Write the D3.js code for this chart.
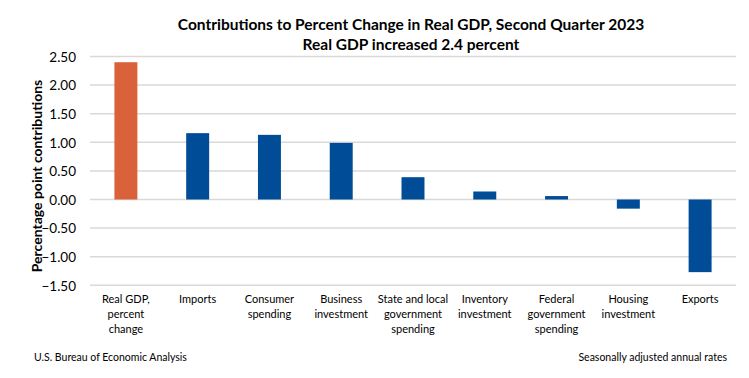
<!DOCTYPE html>
<html><head><meta charset="utf-8">
<script src="https://cdn.jsdelivr.net/npm/d3@7"></script>
<style>body{margin:0;background:#fff}svg{display:block}text{font-family:Lato,"Open Sans",sans-serif;fill:#000}</style>
</head><body><svg id="c" width="749" height="378"></svg>
<script>
const categories = [["Real GDP,","percent","change"],["Imports"],["Consumer","spending"],["Business","investment"],["State and local","government","spending"],["Inventory","investment"],["Federal","government","spending"],["Housing","investment"],["Exports"]];
const values = [2.4, 1.16, 1.13, 0.99, 0.39, 0.14, 0.06, -0.16, -1.27];
const yTicks = [-1.5,-1,-0.5,0,0.5,1,1.5,2,2.5];
const titleLines = ["Contributions to Percent Change in Real GDP, Second Quarter 2023","Real GDP increased 2.4 percent"];

const svg = d3.select("#c");
const x = d3.scaleBand().domain(d3.range(categories.length)).range([90,736]).paddingInner(0.68).paddingOuter(0.34);
const y = d3.scaleLinear().domain([-1.5,2.5]).range([285.3,56.5]);

svg.append("g").selectAll("line").data(yTicks).join("line")
  .attr("x1",90).attr("x2",736).attr("y1",d=>y(d)).attr("y2",d=>y(d))
  .attr("stroke","#d9d9d9").attr("stroke-width",1.5);

const yAxis = d3.axisLeft(y).tickValues(yTicks).tickFormat(d3.format(".2f")).tickSize(0).tickPadding(0);
const ga = svg.append("g").attr("transform","translate(76,0)").call(yAxis);
ga.select(".domain").remove();
ga.selectAll("text").attr("font-size",13.5).attr("font-family","Lato").attr("fill","#000").attr("dy","0.35em");

svg.append("g").selectAll("rect").data(values).join("rect")
  .attr("x",(d,i)=>x(i)).attr("width",x.bandwidth())
  .attr("y",d=>y(Math.max(0,d))).attr("height",d=>Math.abs(y(d)-y(0)))
  .attr("fill",(d,i)=>i===0?"#d9623b":"#004c97");

const cl = svg.append("g").selectAll("text").data(categories).join("text")
  .attr("text-anchor","middle").attr("font-size",11);
cl.each(function(lines,i){
  d3.select(this).selectAll("tspan").data(lines).join("tspan")
    .attr("x",x(i)+x.bandwidth()/2).attr("y",(l,j)=>303+j*15).text(l=>l);
});

svg.append("g").selectAll("text").data(titleLines).join("text")
  .attr("x",411).attr("y",(d,i)=>30+i*20).attr("text-anchor","middle")
  .attr("font-size",15.5).attr("font-weight","bold").text(d=>d);

svg.append("text").attr("transform","translate(42,176) rotate(-90)")
  .attr("text-anchor","middle").attr("font-size",14).attr("font-weight","bold")
  .text("Percentage point contributions");

svg.append("text").attr("x",34).attr("y",361).attr("font-size",10.5).text("U.S. Bureau of Economic Analysis");
svg.append("text").attr("x",727).attr("y",361).attr("text-anchor","end").attr("font-size",10.5).text("Seasonally adjusted annual rates");
</script></body></html>
